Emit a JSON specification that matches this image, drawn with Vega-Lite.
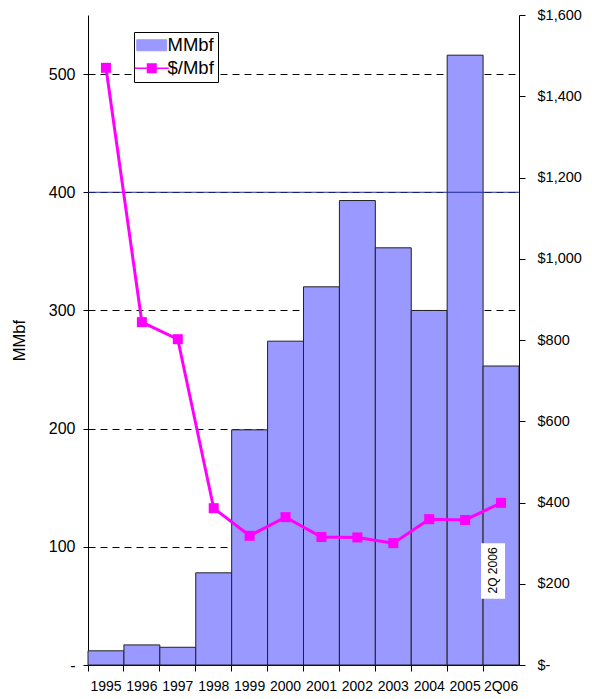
{
  "$schema": "https://vega.github.io/schema/vega-lite/v6.json",
  "width": 431,
  "height": 650,
  "autosize": {"type": "none"},
  "padding": {"left": 88, "top": 15, "right": 73, "bottom": 34},
  "config": {
    "view": {"stroke": null},
    "font": "Liberation Sans",
    "axis": {"labelFont": "Liberation Sans", "titleFont": "Liberation Sans", "labelColor": "black", "titleColor": "black", "domainColor": "black", "tickColor": "black"},
    "legend": {"labelFont": "Liberation Sans"}
  },
  "data": {
    "values": [
      {"period": "1995", "mmbf": 12, "price": 1470},
      {"period": "1996", "mmbf": 17, "price": 844},
      {"period": "1997", "mmbf": 15, "price": 802},
      {"period": "1998", "mmbf": 78, "price": 386},
      {"period": "1999", "mmbf": 199, "price": 318},
      {"period": "2000", "mmbf": 274, "price": 364},
      {"period": "2001", "mmbf": 320, "price": 315},
      {"period": "2002", "mmbf": 393, "price": 314},
      {"period": "2003", "mmbf": 353, "price": 300},
      {"period": "2004", "mmbf": 300, "price": 359},
      {"period": "2005", "mmbf": 516, "price": 357},
      {"period": "2Q06", "mmbf": 253, "price": 399}
    ]
  },
  "layer": [
    {
      "layer": [
        {
          "mark": {"type": "bar", "stroke": "#222222", "strokeWidth": 1},
          "encoding": {
            "x": {
              "field": "period", "type": "nominal", "sort": null,
              "scale": {"paddingInner": 0, "paddingOuter": 0},
              "axis": {"title": null, "bandPosition": 0, "labelAngle": 0, "labelFontSize": 14, "labelPadding": 8, "tickSize": 6, "domainColor": "black", "labelAlign": "center"}
            },
            "y": {
              "field": "mmbf", "type": "quantitative",
              "scale": {"domain": [0, 550], "nice": false, "zero": true},
              "axis": {
                "title": "MMbf", "titleFontSize": 16.5, "titleFontWeight": "normal", "titlePadding": 21,
                "values": [0, 100, 200, 300, 400, 500],
                "labelExpr": "datum.value === 0 ? '-' : datum.label",
                "labelFontSize": 16, "labelPadding": 8, "tickSize": 5,
                "grid": true, "gridColor": "black", "gridDash": [7, 5], "gridWidth": 1
              }
            },
            "color": {
              "datum": "MMbf",
              "scale": {"domain": ["MMbf", "$/Mbf"], "range": ["#9999ff", "#ff00ff"]},
              "legend": {
                "title": null,
                "orient": "none",
                "legendX": 46,
                "legendY": 17,
                "strokeColor": "black",
                "fillColor": "white",
                "padding": 4,
                "labelFontSize": 18.5,
                "symbolSize": 400,
                "symbolOffset": 4.5,
                "labelOffset": 6.5,
                "rowPadding": 4,
                "encode": {
                  "symbols": {
                    "enter": {
                      "shape": {"signal": "datum.value === 'MMbf' ? 'M-1.5,-0.55L1.5,-0.55L1.5,0.55L-1.5,0.55Z' : 'M-1.7,-0.08L1.7,-0.08L1.7,0.08L-1.7,0.08Z M-0.5,-0.5L0.5,-0.5L0.5,0.5L-0.5,0.5Z'"}
                    },
                    "update": {
                      "shape": {"signal": "datum.value === 'MMbf' ? 'M-1.5,-0.55L1.5,-0.55L1.5,0.55L-1.5,0.55Z' : 'M-1.7,-0.08L1.7,-0.08L1.7,0.08L-1.7,0.08Z M-0.5,-0.5L0.5,-0.5L0.5,0.5L-0.5,0.5Z'"},
                      "fill": {"signal": "datum.value === 'MMbf' ? '#9999ff' : '#ff00ff'"},
                      "stroke": {"signal": "datum.value === 'MMbf' ? '#222222' : '#ff00ff'"},
                      "strokeWidth": {"signal": "datum.value === 'MMbf' ? 1 : 0"},
                      "opacity": {"value": 1},
                      "fillOpacity": {"value": 1}
                    }
                  }
                }
              }
            }
          }
        },
        {
          "data": {"values": [{}]},
          "mark": {"type": "rule", "color": "#1f2a9a", "strokeWidth": 1},
          "encoding": {"y": {"datum": 400}}
        },
        {
          "data": {"values": [{}]},
          "mark": {"type": "rect", "fill": "white", "width": 24, "xOffset": -8},
          "encoding": {
            "x": {"datum": "2Q06"},
            "y": {"datum": 103},
            "y2": {"datum": 56}
          }
        },
        {
          "data": {"values": [{}]},
          "mark": {"type": "text", "angle": 270, "fontSize": 12, "align": "center", "baseline": "middle", "xOffset": -8, "color": "black"},
          "encoding": {
            "x": {"datum": "2Q06"},
            "y": {"datum": 80},
            "text": {"value": "2Q 2006"}
          }
        }
      ]
    },
    {
      "mark": {"type": "line", "color": "#ff00ff", "strokeWidth": 3, "point": {"shape": "square", "size": 100, "filled": true, "color": "#ff00ff", "opacity": 1}},
      "encoding": {
        "x": {"field": "period", "type": "nominal", "sort": null, "bandPosition": 0.5},
        "y": {
          "field": "price", "type": "quantitative",
          "scale": {"domain": [0, 1600], "nice": false, "zero": true},
          "axis": {
            "orient": "right", "title": null,
            "values": [0, 200, 400, 600, 800, 1000, 1200, 1400, 1600],
            "labelExpr": "datum.value === 0 ? '$-' : '$' + format(datum.value, ',')",
            "labelFontSize": 14.5, "labelPadding": 12, "tickSize": 6, "grid": false
          }
        },
        "color": {
          "datum": "$/Mbf",
          "legend": {
            "title": null,
            "orient": "none",
            "legendX": 46,
            "legendY": 17,
            "strokeColor": "black",
            "fillColor": "white",
            "padding": 4,
            "labelFontSize": 18.5,
            "symbolSize": 400,
            "symbolOffset": 4.5,
            "labelOffset": 6.5,
            "rowPadding": 4,
            "encode": {
              "symbols": {
                "enter": {
                  "shape": {"signal": "datum.value === 'MMbf' ? 'M-1.5,-0.55L1.5,-0.55L1.5,0.55L-1.5,0.55Z' : 'M-1.7,-0.08L1.7,-0.08L1.7,0.08L-1.7,0.08Z M-0.5,-0.5L0.5,-0.5L0.5,0.5L-0.5,0.5Z'"}
                },
                "update": {
                  "shape": {"signal": "datum.value === 'MMbf' ? 'M-1.5,-0.55L1.5,-0.55L1.5,0.55L-1.5,0.55Z' : 'M-1.7,-0.08L1.7,-0.08L1.7,0.08L-1.7,0.08Z M-0.5,-0.5L0.5,-0.5L0.5,0.5L-0.5,0.5Z'"},
                  "fill": {"signal": "datum.value === 'MMbf' ? '#9999ff' : '#ff00ff'"},
                  "stroke": {"signal": "datum.value === 'MMbf' ? '#222222' : '#ff00ff'"},
                  "strokeWidth": {"signal": "datum.value === 'MMbf' ? 1 : 0"},
                  "opacity": {"value": 1},
                  "fillOpacity": {"value": 1}
                }
              }
            }
          }
        }
      }
    }
  ],
  "resolve": {"scale": {"y": "independent"}, "axis": {"y": "independent"}}
}
